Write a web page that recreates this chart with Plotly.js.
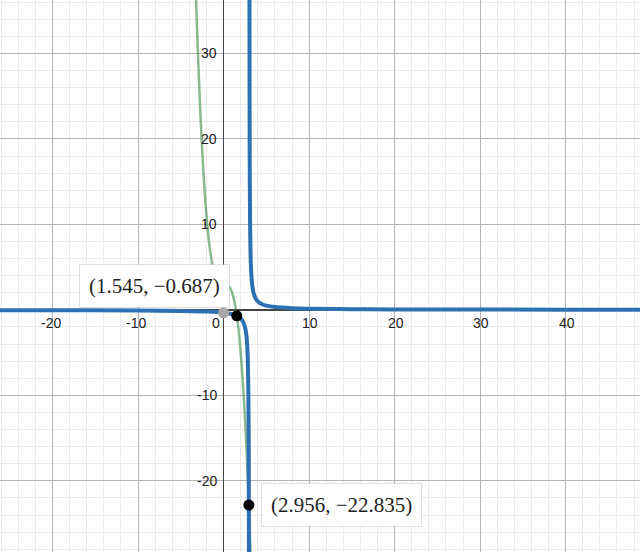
<!DOCTYPE html>
<html>
<head>
<meta charset="utf-8">
<script src="https://cdn.plot.ly/plotly-3.0.1.min.js"></script>
<style>
  html, body { margin: 0; padding: 0; background: #fff; }
  #chart { width: 640px; height: 552px; }
</style>
</head>
<body>
<div id="chart"></div>
<script>
// Blue curve, left branch
const blueLeftX = [-27, -20, -10, -5, -2, 0, 1, 1.5, 2, 2.3, 2.5, 2.6, 2.7, 2.8, 2.85, 2.9, 2.93, 2.95, 2.96, 2.965, 2.97];
const blueLeftY = [-0.033, -0.043, -0.077, -0.125, -0.2, -0.333, -0.5, -0.667, -1, -1.429, -2, -2.5, -3.333, -5, -6.667, -10, -14.29, -20, -25, -28.57, -33.33];
// Blue curve, right branch
const blueRightX = [3.025, 3.03, 3.04, 3.05, 3.07, 3.1, 3.15, 3.2, 3.3, 3.4, 3.5, 3.75, 4, 4.5, 5, 6, 8, 10, 15, 20, 30, 40, 50];
const blueRightY = [40, 33.33, 25, 20, 14.29, 10, 6.667, 5, 3.333, 2.5, 2, 1.333, 1, 0.667, 0.5, 0.333, 0.2, 0.143, 0.083, 0.059, 0.037, 0.027, 0.021];
// Green curve
const greenX = [-3.3, -3.1, -2.9, -2.7, -2.5, -2.3, -2.1, -1.9, -1.7, -1.5, -1.3, -1.1, -0.9, -0.7, -0.5, -0.3, -0.1, 0.1, 0.3, 0.5, 0.7, 0.9, 1.1, 1.3, 1.5, 1.7, 1.9, 2.1, 2.3, 2.5, 2.7, 2.9, 3.1, 3.3];
const greenY = [38.94, 32.79, 27.39, 22.68, 18.63, 15.17, 12.26, 9.86, 7.91, 6.38, 5.2, 4.33, 3.73, 3.34, 3.13, 3.03, 3.0, 3.0, 2.97, 2.88, 2.66, 2.27, 1.67, 0.8, -0.38, -1.91, -3.86, -6.26, -9.17, -12.63, -16.68, -21.39, -26.79, -32.94];
// Highlighted points
const pointX = [1.545, 2.956];
const pointY = [-0.687, -22.835];
const pointLabels = ["(1.545, \u22120.687)", "(2.956, \u221222.835)"];
const grayX = [0];
const grayY = [-0.333];
// Tick labels
const xTickVals = [-20, -10, 0, 10, 20, 30, 40];
const yTickVals = [-20, -10, 10, 20, 30];

const blue = '#2d70b3';
const green = 'rgba(56,140,70,0.6)';

const traces = [
  { x: greenX, y: greenY, mode: 'lines', line: { color: green, width: 2.5, shape: 'spline' }, hoverinfo: 'skip' },
  { x: blueLeftX, y: blueLeftY, mode: 'lines', line: { color: blue, width: 4, shape: 'spline' }, hoverinfo: 'skip' },
  { x: blueRightX, y: blueRightY, mode: 'lines', line: { color: blue, width: 4, shape: 'spline' }, hoverinfo: 'skip' },
  { x: grayX, y: grayY, mode: 'markers', marker: { color: '#a8a8a8', size: 11 }, hoverinfo: 'skip' },
  { x: pointX, y: pointY, mode: 'markers', marker: { color: '#000', size: 11 }, hoverinfo: 'skip' }
];

const tickFont = { family: 'Arial, Liberation Sans, sans-serif', size: 14, color: '#222' };
const annotations = [];
xTickVals.forEach(v => {
  annotations.push({
    x: v, y: 0, xref: 'x', yref: 'y', text: String(v), showarrow: false,
    xanchor: 'center', yanchor: 'middle',
    xshift: v === 0 ? -8 : (v < 0 ? -2 : 1), yshift: -13, font: tickFont
  });
});
yTickVals.forEach(v => {
  annotations.push({
    x: 0, y: v, xref: 'x', yref: 'y', text: String(v), showarrow: false,
    xanchor: 'right', yanchor: 'middle', xshift: -5, yshift: 0, font: tickFont
  });
});
const boxPos = [[0.2414, 0.4819], [0.5336, 0.0851]];
pointLabels.forEach((t, i) => {
  annotations.push({
    x: boxPos[i][0], y: boxPos[i][1], xref: 'paper', yref: 'paper', text: t, showarrow: false,
    xanchor: 'center', yanchor: 'middle',
    font: { family: 'Liberation Serif, Times New Roman, serif', size: 21, color: '#222' },
    bgcolor: '#ffffff', bordercolor: 'rgba(0,0,0,0.12)', borderwidth: 1, borderpad: 9
  });
});

const axisCommon = {
  showgrid: true, gridcolor: '#b4b4b4', gridwidth: 1,
  dtick: 10, tick0: 0, showticklabels: false, ticks: '',
  zeroline: true, zerolinecolor: '#444', zerolinewidth: 1.5,
  showline: false, fixedrange: true,
  minor: { dtick: 2, tick0: 0, showgrid: true, gridcolor: '#ebebeb', gridwidth: 1, ticks: '' }
};

const layout = {
  width: 640, height: 552,
  margin: { l: 0, r: 0, t: 0, b: 0 },
  paper_bgcolor: '#fff', plot_bgcolor: '#fff',
  showlegend: false,
  xaxis: Object.assign({}, axisCommon, { range: [-26.15, 48.70] }),
  yaxis: Object.assign({}, axisCommon, { range: [-28.32, 36.25] }),
  annotations: annotations
};

Plotly.newPlot('chart', traces, layout, { staticPlot: true, displayModeBar: false });
</script>
</body>
</html>
